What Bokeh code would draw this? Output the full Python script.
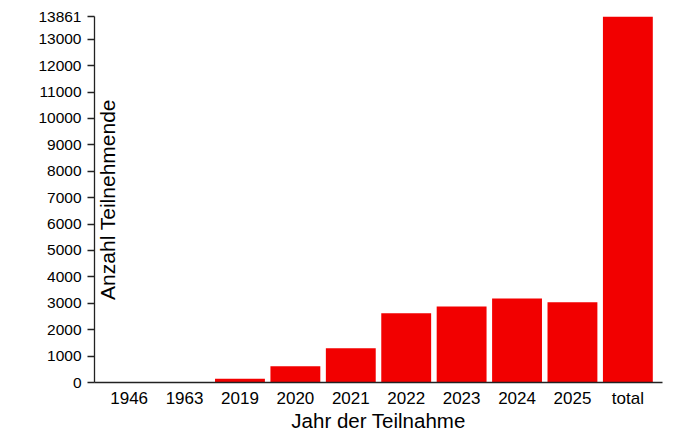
import math
from bokeh.plotting import figure
from bokeh.models import FactorRange, Range1d, FixedTicker, Label, ColumnDataSource
from bokeh.embed import file_html
from bokeh.resources import INLINE

categories = ["1946", "1963", "2019", "2020", "2021", "2022", "2023", "2024", "2025", "total"]
counts = [1, 1, 140, 620, 1300, 2620, 2880, 3180, 3040, 13861]
y_ticks = [0, 1000, 2000, 3000, 4000, 5000, 6000, 7000, 8000, 9000,
           10000, 11000, 12000, 13000, 13861]
x_title = "Jahr der Teilnahme"
y_title = "Anzahl Teilnehmende"

FONT = "Liberation Sans"
BAR_COLOR = "#f20000"

source = ColumnDataSource(data=dict(cat=categories, n=counts))

p = figure(
    width=680, height=434,
    x_range=FactorRange(*categories, range_padding=0.025),
    y_range=Range1d(0, max(counts)),
    output_backend="svg", toolbar_location=None,
    min_border_left=94, min_border_right=18, min_border_top=16, min_border_bottom=51,
)

p.vbar(x="cat", top="n", width=0.9, source=source, color=BAR_COLOR, line_color=None)

p.xgrid.visible = False
p.ygrid.visible = False
p.outline_line_color = None
p.background_fill_color = "white"
p.border_fill_color = "white"

# y axis
ya = p.yaxis[0]
ya.ticker = FixedTicker(ticks=y_ticks, minor_ticks=[])
ya.major_tick_out = 7
ya.major_tick_in = 0
ya.minor_tick_out = 0
ya.minor_tick_in = 0
ya.major_label_standoff = 6
ya.major_label_text_font = FONT
ya.major_label_text_font_size = "15.5px"
ya.major_label_text_color = "black"
ya.axis_line_color = "#222222"
ya.axis_line_width = 1.3
ya.major_tick_line_color = "#222222"
ya.major_tick_line_width = 1.3

# x axis
xa = p.xaxis[0]
xa.major_tick_out = 0
xa.major_tick_in = 0
xa.minor_tick_out = 0
xa.major_label_standoff = 6
xa.major_label_text_font = FONT
xa.major_label_text_font_size = "17px"
xa.major_label_text_color = "black"
xa.axis_line_color = "#222222"
xa.axis_line_width = 1.3
xa.axis_label = x_title
xa.axis_label_text_font = FONT
xa.axis_label_text_font_size = "20.5px"
xa.axis_label_text_font_style = "normal"
xa.axis_label_text_color = "black"
xa.axis_label_standoff = -2

# y axis title drawn inside plot area next to the axis line
# (x = 0.5 is the synthetic coordinate of the first category's centre)
ylab = Label(
    x=0.5, y=max(counts) / 2, x_offset=-22,
    text=y_title, angle=math.pi / 2,
    text_align="center", text_baseline="alphabetic",
    text_font=FONT, text_font_size="21px", text_color="black",
)
p.add_layout(ylab)

open("out.html", "w").write(file_html(p, INLINE))
